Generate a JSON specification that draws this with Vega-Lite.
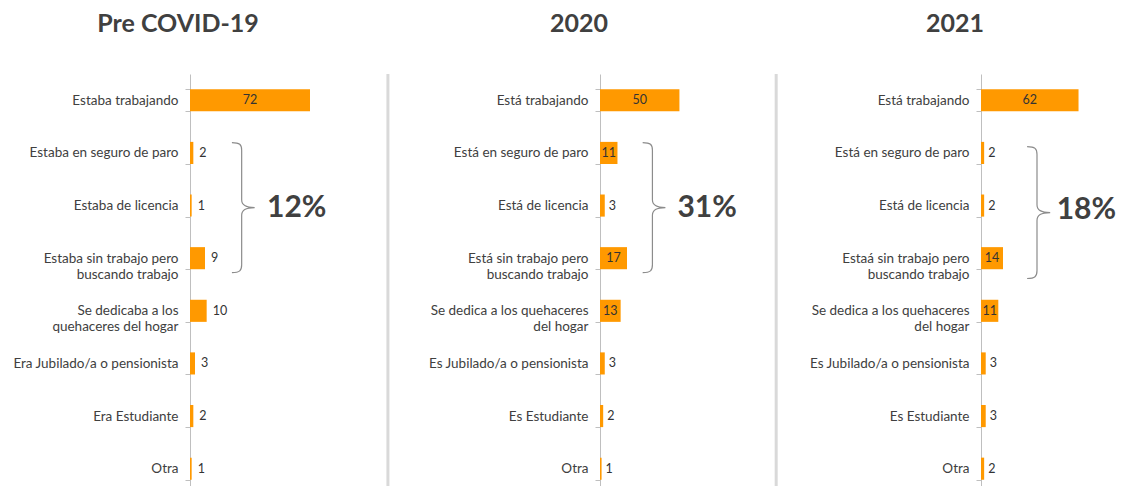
{
  "$schema": "https://vega.github.io/schema/vega-lite/v6.json",
  "background": "white",
  "padding": {"left": 12, "top": 12, "right": 0, "bottom": 0},
  "spacing": 8,
  "config": {
    "view": {"stroke": null},
    "font": "Lato",
    "title": {"fontSize": 25, "fontWeight": "bold", "color": "#404040", "anchor": "middle", "frame": "group", "offset": 30, "font": "Lato"},
    "axisY": {"title": null, "domainColor": "#bfbfbf", "tickColor": "#bfbfbf", "tickSize": 5, "tickBand": "extent", "labelFont": "Lato", "labelFontSize": 13.5, "labelColor": "#404040", "labelPadding": 7, "labelLineHeight": 16, "labelLimit": 300, "labelExpr": "datum.value ? split(datum.value, '|') : ''"}
  },
  "resolve": {"scale": {"x": "independent", "y": "independent"}},
  "hconcat": [
    {
      "width": 188, "height": 421,
      "title": {"text": "Pre COVID-19", "dx": -106},
      "data": {"values": [
        {"cat": "Estaba trabajando", "v": 72},
        {"cat": "Estaba en seguro de paro", "v": 2},
        {"cat": "Estaba de licencia", "v": 1},
        {"cat": "Estaba sin trabajo pero|buscando trabajo", "v": 9},
        {"cat": "Se dedicaba a los|quehaceres del hogar", "v": 10},
        {"cat": "Era Jubilado/a o pensionista", "v": 3},
        {"cat": "Era Estudiante", "v": 2},
        {"cat": "Otra", "v": 1}
      ]},
      "layer": [
        {"mark": {"type": "bar", "color": "#ff9900"}, "encoding": {"y": {"field": "cat", "type": "nominal", "sort": null, "scale": {"paddingInner": 0.58, "paddingOuter": 0.29}}, "x": {"field": "v", "type": "quantitative", "scale": {"domain": [0, 112.8], "nice": false}, "axis": null}}},
        {"transform": [{"filter": "datum.v >= 11"}, {"calculate": "datum.v / 2", "as": "mid"}], "mark": {"type": "text", "align": "center", "fontSize": 12.5, "color": "#333333"}, "encoding": {"y": {"field": "cat", "type": "nominal", "sort": null}, "x": {"field": "mid", "type": "quantitative", "scale": {"domain": [0, 112.8], "nice": false}}, "text": {"field": "v"}}},
        {"transform": [{"filter": "datum.v < 11"}], "mark": {"type": "text", "align": "left", "dx": 6, "fontSize": 12.5, "color": "#333333"}, "encoding": {"y": {"field": "cat", "type": "nominal", "sort": null}, "x": {"field": "v", "type": "quantitative", "scale": {"domain": [0, 112.8], "nice": false}}, "text": {"field": "v"}}},
        {"data": {"values": [{"cat": "Estaba de licencia", "pct": "12%"}]}, "mark": {"type": "point", "shape": "M-0.15,-1 C-0.03,-1 0,-0.97 0,-0.88 L0,-0.12 C0,-0.04 0.06,0 0.2,0 C0.06,0 0,0.04 0,0.12 L0,0.88 C0,0.97 -0.03,1 -0.15,1", "size": 16900, "filled": false, "color": "#8c8c8c", "strokeWidth": 1.2, "opacity": 1, "yOffset": 2}, "encoding": {"y": {"field": "cat", "type": "nominal", "sort": null}, "x": {"datum": 31, "type": "quantitative", "scale": {"domain": [0, 112.8], "nice": false}}}},
        {"data": {"values": [{"cat": "Estaba de licencia", "pct": "12%"}]}, "mark": {"type": "text", "fontSize": 30, "fontWeight": "bold", "color": "#404040", "dy": 2}, "encoding": {"y": {"field": "cat", "type": "nominal", "sort": null}, "x": {"datum": 64, "type": "quantitative", "scale": {"domain": [0, 112.8], "nice": false}}, "text": {"field": "pct"}}}
      ]
    },
    {
      "width": 166, "height": 421,
      "title": {"text": "2020", "dx": -104},
      "data": {"values": [
        {"cat": "Está trabajando", "v": 50},
        {"cat": "Está en seguro de paro", "v": 11},
        {"cat": "Está de licencia", "v": 3},
        {"cat": "Está sin trabajo pero|buscando trabajo", "v": 17},
        {"cat": "Se dedica a los quehaceres|del hogar", "v": 13},
        {"cat": "Es Jubilado/a o pensionista", "v": 3},
        {"cat": "Es Estudiante", "v": 2},
        {"cat": "Otra", "v": 1}
      ]},
      "layer": [
        {"mark": {"type": "bar", "color": "#ff9900"}, "encoding": {"y": {"field": "cat", "type": "nominal", "sort": null, "scale": {"paddingInner": 0.58, "paddingOuter": 0.29}}, "x": {"field": "v", "type": "quantitative", "scale": {"domain": [0, 104.5], "nice": false}, "axis": null}}},
        {"transform": [{"filter": "datum.v >= 11"}, {"calculate": "datum.v / 2", "as": "mid"}], "mark": {"type": "text", "align": "center", "fontSize": 12.5, "color": "#333333"}, "encoding": {"y": {"field": "cat", "type": "nominal", "sort": null}, "x": {"field": "mid", "type": "quantitative", "scale": {"domain": [0, 104.5], "nice": false}}, "text": {"field": "v"}}},
        {"transform": [{"filter": "datum.v < 11"}], "mark": {"type": "text", "align": "left", "dx": 4, "fontSize": 12.5, "color": "#333333"}, "encoding": {"y": {"field": "cat", "type": "nominal", "sort": null}, "x": {"field": "v", "type": "quantitative", "scale": {"domain": [0, 104.5], "nice": false}}, "text": {"field": "v"}}},
        {"data": {"values": [{"cat": "Está de licencia", "pct": "31%"}]}, "mark": {"type": "point", "shape": "M-0.15,-1 C-0.03,-1 0,-0.97 0,-0.88 L0,-0.12 C0,-0.04 0.06,0 0.2,0 C0.06,0 0,0.04 0,0.12 L0,0.88 C0,0.97 -0.03,1 -0.15,1", "size": 16900, "filled": false, "color": "#8c8c8c", "strokeWidth": 1.2, "opacity": 1, "yOffset": 2}, "encoding": {"y": {"field": "cat", "type": "nominal", "sort": null}, "x": {"datum": 33, "type": "quantitative", "scale": {"domain": [0, 104.5], "nice": false}}}},
        {"data": {"values": [{"cat": "Está de licencia", "pct": "31%"}]}, "mark": {"type": "text", "fontSize": 30, "fontWeight": "bold", "color": "#404040", "dy": 2}, "encoding": {"y": {"field": "cat", "type": "nominal", "sort": null}, "x": {"datum": 67.4, "type": "quantitative", "scale": {"domain": [0, 104.5], "nice": false}}, "text": {"field": "pct"}}},
        {"data": {"values": [{"sep": "a"}]}, "mark": {"type": "rule", "color": "#d9d9d9", "strokeWidth": 3}, "encoding": {"x": {"datum": -133.5, "type": "quantitative", "scale": {"domain": [0, 104.5], "nice": false}}}}
      ]
    },
    {
      "width": 140, "height": 421,
      "title": {"text": "2021", "dx": -96},
      "data": {"values": [
        {"cat": "Está trabajando", "v": 62},
        {"cat": "Está en seguro de paro", "v": 2},
        {"cat": "Está de licencia", "v": 2},
        {"cat": "Estaá sin trabajo pero|buscando trabajo", "v": 14},
        {"cat": "Se dedica a los quehaceres|del hogar", "v": 11},
        {"cat": "Es Jubilado/a o pensionista", "v": 3},
        {"cat": "Es Estudiante", "v": 3},
        {"cat": "Otra", "v": 2}
      ]},
      "layer": [
        {"mark": {"type": "bar", "color": "#ff9900"}, "encoding": {"y": {"field": "cat", "type": "nominal", "sort": null, "scale": {"paddingInner": 0.58, "paddingOuter": 0.29}}, "x": {"field": "v", "type": "quantitative", "scale": {"domain": [0, 89], "nice": false}, "axis": null}}},
        {"transform": [{"filter": "datum.v >= 11"}, {"calculate": "datum.v / 2", "as": "mid"}], "mark": {"type": "text", "align": "center", "fontSize": 12.5, "color": "#333333"}, "encoding": {"y": {"field": "cat", "type": "nominal", "sort": null}, "x": {"field": "mid", "type": "quantitative", "scale": {"domain": [0, 89], "nice": false}}, "text": {"field": "v"}}},
        {"transform": [{"filter": "datum.v < 11"}], "mark": {"type": "text", "align": "left", "dx": 4, "fontSize": 12.5, "color": "#333333"}, "encoding": {"y": {"field": "cat", "type": "nominal", "sort": null}, "x": {"field": "v", "type": "quantitative", "scale": {"domain": [0, 89], "nice": false}}, "text": {"field": "v"}}},
        {"data": {"values": [{"cat": "Está de licencia", "pct": "18%"}]}, "mark": {"type": "point", "shape": "M-0.15,-1 C-0.03,-1 0,-0.97 0,-0.88 L0,-0.12 C0,-0.04 0.06,0 0.2,0 C0.06,0 0,0.04 0,0.12 L0,0.88 C0,0.97 -0.03,1 -0.15,1", "size": 17400, "filled": false, "color": "#8c8c8c", "strokeWidth": 1.2, "opacity": 1, "yOffset": 7}, "encoding": {"y": {"field": "cat", "type": "nominal", "sort": null}, "x": {"datum": 35.6, "type": "quantitative", "scale": {"domain": [0, 89], "nice": false}}}},
        {"data": {"values": [{"cat": "Está de licencia", "pct": "18%"}]}, "mark": {"type": "text", "fontSize": 30, "fontWeight": "bold", "color": "#404040", "dy": 4}, "encoding": {"y": {"field": "cat", "type": "nominal", "sort": null}, "x": {"datum": 67, "type": "quantitative", "scale": {"domain": [0, 89], "nice": false}}, "text": {"field": "pct"}}},
        {"data": {"values": [{"sep": "a"}]}, "mark": {"type": "rule", "color": "#d9d9d9", "strokeWidth": 3}, "encoding": {"x": {"datum": -130.2, "type": "quantitative", "scale": {"domain": [0, 89], "nice": false}}}}
      ]
    }
  ]
}
